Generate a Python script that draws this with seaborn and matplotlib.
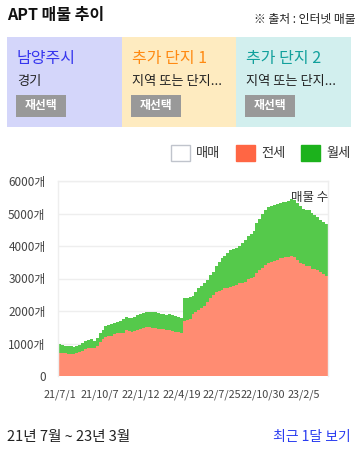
import numpy as np
import pandas as pd
import matplotlib
matplotlib.use('Agg')
import matplotlib.pyplot as plt
from matplotlib.patches import Rectangle, Patch
import seaborn as sns

# weekly listings, 21/7/1 ~ 23/3
jeonse = [720, 710, 700, 690, 680, 690, 700, 740, 780, 820, 850, 850, 860, 930, 1060,
          1140, 1200, 1220, 1240, 1290, 1320, 1330, 1330, 1410, 1380, 1360, 1380, 1410,
          1440, 1480, 1500, 1500, 1480, 1470, 1460, 1450, 1440, 1430, 1420, 1400, 1360,
          1340, 1320, 1680, 1720, 1760, 1900, 1980, 2020, 2090, 2150, 2280, 2400, 2500,
          2590, 2630, 2660, 2700, 2720, 2750, 2770, 2800, 2850, 2870, 2900, 2980, 3020,
          3060, 3180, 3250, 3320, 3410, 3480, 3510, 3550, 3580, 3620, 3640, 3650, 3660,
          3690, 3660, 3560, 3480, 3440, 3400, 3370, 3300, 3280, 3250, 3210, 3150, 3080]
wolse = [270, 240, 230, 230, 240, 210, 220, 210, 230, 250, 270, 300, 220, 250, 260,
         290, 330, 340, 360, 340, 330, 350, 410, 410, 420, 430, 430, 460, 480, 470,
         480, 480, 490, 490, 480, 470, 460, 460, 480, 480, 480, 470, 460, 710, 670,
         660, 570, 620, 680, 690, 700, 670, 700, 700, 790, 890, 980, 1000, 1060, 1120,
         1130, 1140, 1150, 1210, 1300, 1320, 1360, 1390, 1540, 1570, 1660, 1690, 1710,
         1720, 1720, 1720, 1710, 1700, 1710, 1740, 1760, 1760, 1760, 1750, 1710, 1700,
         1750, 1710, 1680, 1650, 1590, 1580, 1600]
tick_labels = ['21/7/1', '21/10/7', '22/1/12', '22/4/19', '22/7/25', '22/10/30', '23/2/5']
tick_pos = [0, 14, 28, 42, 56, 70, 84]
y_ticks = [0, 1000, 2000, 3000, 4000, 5000, 6000]

panels = [('남양주시', '경기', '#3535ee', '#d4d6fa'),
          ('추가 단지 1', '지역 또는 단지...', '#ff8a12', '#feebc0'),
          ('추가 단지 2', '지역 또는 단지...', '#12a09c', '#d2efee')]

df = pd.DataFrame({'week': np.arange(len(jeonse)), 'jeonse': jeonse, 'wolse': wolse})
df['total'] = df['jeonse'] + df['wolse']

sns.set_theme(style='white')
plt.rcParams['font.family'] = ['Noto Sans CJK KR', 'DejaVu Sans']

W, H = 360, 450
fig = plt.figure(figsize=(3.6, 4.5), dpi=100)


def fx(x):
    return x / W


def fy(y):
    return 1 - y / H


# header
fig.text(fx(7), fy(15), 'APT 매물 추이', fontsize=11.5, fontweight='bold', color='#111111', va='center')
fig.text(fx(356), fy(20), '※ 출처 : 인터넷 매물', fontsize=8.5, color='#222222', ha='right', va='center')

px = [7, 122, 236, 351]
for i, (name, sub, col, bg) in enumerate(panels):
    fig.add_artist(Rectangle((fx(px[i]), fy(127)), fx(px[i + 1] - px[i]), 90 / H,
                             transform=fig.transFigure, facecolor=bg, edgecolor='none'))
    fig.text(fx(px[i] + 10), fy(58), name, fontsize=11.5, color=col, va='center')
    fig.text(fx(px[i] + 10), fy(82), sub, fontsize=9.5, color='#222222', va='center')
    fig.add_artist(Rectangle((fx(px[i] + 9), fy(117)), fx(50), 22 / H,
                             transform=fig.transFigure, facecolor='#999999', edgecolor='none'))
    fig.text(fx(px[i] + 34), fy(106), '재선택', fontsize=8.5, color='white', fontweight='bold',
             ha='center', va='center')

# chart
ax = fig.add_axes([fx(58), fy(376), fx(328 - 58), (376 - 181) / H])
sns.barplot(data=df, x='week', y='total', color='#55c94b', width=1.0, saturation=1,
            linewidth=0, ax=ax)
sns.barplot(data=df, x='week', y='jeonse', color='#ff8c72', width=1.0, saturation=1,
            linewidth=0, ax=ax)
ax.set_xlim(-0.5, len(jeonse) - 0.5)
ax.set_ylim(0, 6000)
ax.set_yticks(y_ticks)
ax.set_yticklabels(['0'] + [f'{v}개' for v in y_ticks[1:]], fontsize=8.5, color='#444444')
ax.set_xticks(tick_pos)
ax.set_xticklabels(tick_labels, fontsize=7.8, color='#444444')
ax.tick_params(axis='y', length=0, pad=9)
ax.tick_params(axis='x', length=0, pad=10)
ax.set_xlabel('')
ax.set_ylabel('')
ax.grid(axis='y', color='#eeeeee', linewidth=1)
ax.set_axisbelow(True)
for s in ax.spines.values():
    s.set_color('#eeeeee')
    s.set_linewidth(1)
ax.spines['bottom'].set_visible(False)
ax.text(1.0, 0.95, '매물 수', transform=ax.transAxes, ha='right', va='top', fontsize=9,
        color='#333333')

handles = [Patch(facecolor='white', edgecolor='#c0c4cc', linewidth=1),
           Patch(facecolor='#ff6644', edgecolor='#ff6644', linewidth=1),
           Patch(facecolor='#1cb21c', edgecolor='#1cb21c', linewidth=1)]
fig.legend(handles, ['매매', '전세', '월세'], loc='center right', bbox_to_anchor=(fx(356), fy(153)),
           ncol=3, frameon=False, fontsize=9.5, handlelength=1.4, handleheight=1.4,
           handletextpad=0.5, columnspacing=1.2, borderaxespad=0, labelcolor='#333333')

# footer
fig.text(fx(7), fy(437), '21년 7월 ~ 23년 3월', fontsize=10.5, color='#222222', va='center')
fig.text(fx(351), fy(437), '최근 1달 보기', fontsize=10, color='#2a3cf0', ha='right', va='center')

fig.savefig('out.png', dpi=100, facecolor='white')
